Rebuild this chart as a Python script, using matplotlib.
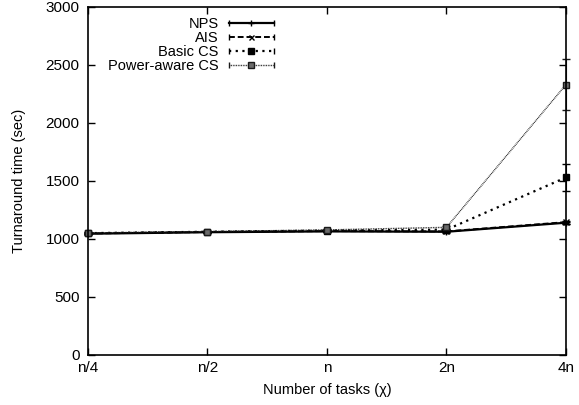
import numpy as np
import matplotlib
matplotlib.use("Agg")
import matplotlib.pyplot as plt
from matplotlib.legend_handler import HandlerBase
from matplotlib.lines import Line2D

plt.rcParams['font.family'] = ['Liberation Sans', 'DejaVu Sans']

# data
tick_labels = ["n/4", "n/2", "n", "2n", "4n"]
series_names = ["NPS", "AIS", "Basic CS", "Power-aware CS"]
nps = [1045, 1058, 1065, 1062, 1140]
ais = [1047, 1060, 1068, 1065, 1145]
basic_cs = [1050, 1062, 1072, 1080, 1530]
power_cs = [1052, 1064, 1078, 1100, 2330]
nps_err = [8, 8, 8, 8, 10]
ais_err = [8, 8, 8, 8, 12]
basic_err = [8, 8, 8, 10, 120]
power_err = [8, 8, 8, 12, 220]

styles = [
    dict(ls='-', lw=1.6, marker='+', ms=5, mfc='black', color='black'),
    dict(ls=(0, (3, 1.5)), lw=1.4, marker='x', ms=4, mfc='black', color='black'),
    dict(ls=(0, (1, 2)), lw=1.6, marker='s', ms=4.5, mfc='black', color='black'),
    dict(ls=(0, (0.6, 0.6)), lw=1.0, marker='s', ms=5, mfc='#6a6a6a', color='#1a1a1a'),
]


class GnuplotHandler(HandlerBase):
    # horizontal sample with end ticks and the point symbol in the middle
    def __init__(self, st):
        super().__init__()
        self.st = st

    def create_artists(self, legend, orig_handle, xdescent, ydescent,
                       width, height, fontsize, trans):
        y = height / 2.0 - ydescent
        st = self.st
        line = Line2D([0, width], [y, y], color=st['color'], lw=st['lw'], ls=st['ls'])
        caps = Line2D([0, width], [y, y], color=st['color'], lw=0, marker='|', ms=5, mew=1.0)
        mk = Line2D([width / 2], [y], color=st['color'], lw=0, marker=st['marker'],
                    ms=st['ms'] * 0.9, mfc=st['mfc'], mec=st['color'], mew=1.0)
        for a in (line, caps, mk):
            a.set_transform(trans)
        return [line, caps, mk]


fig = plt.figure(figsize=(5.79, 4.05), dpi=100)
ax = fig.add_axes([0.152, 0.1235, 0.8255, 0.8595])

x = np.arange(len(tick_labels))
all_vals = [nps, ais, basic_cs, power_cs]
all_err = [nps_err, ais_err, basic_err, power_err]
handles = []
hmap = {}
for name, vals, err, st in zip(series_names, all_vals, all_err, styles):
    ax.errorbar(x, vals, yerr=err, color=st['color'], lw=st['lw'], ls=st['ls'],
                marker=st['marker'], ms=st['ms'], mfc=st['mfc'], mec=st['color'],
                mew=1.0, elinewidth=0.8, capsize=3, capthick=0.8, clip_on=False)
    h = Line2D([], [], color=st['color'])
    handles.append(h)
    hmap[h] = GnuplotHandler(st)

ax.set_xlim(0, 4)
ax.set_ylim(0, 3000)
ax.set_xticks(x)
ax.set_xticklabels(tick_labels)
ax.set_yticks(np.arange(0, 3001, 500))
ax.tick_params(direction='in', top=True, right=True, length=5, width=1,
               labelsize=11, pad=4)
ax.tick_params(axis='y', pad=6)
for s in ax.spines.values():
    s.set_linewidth(1.2)
ax.set_xlabel("Number of tasks (\u03c7)", fontsize=10.5, labelpad=6)
ax.set_ylabel("Turnaround time (sec)", fontsize=10.5, labelpad=14)

ax.legend(handles, series_names, handler_map=hmap, loc='upper left',
          bbox_to_anchor=(0.02, 1.0), frameon=False, markerfirst=False,
          fontsize=10.5, handlelength=3.1, labelspacing=0.0, handletextpad=0.7,
          borderaxespad=0.3)

fig.savefig("out.png", dpi=100)
